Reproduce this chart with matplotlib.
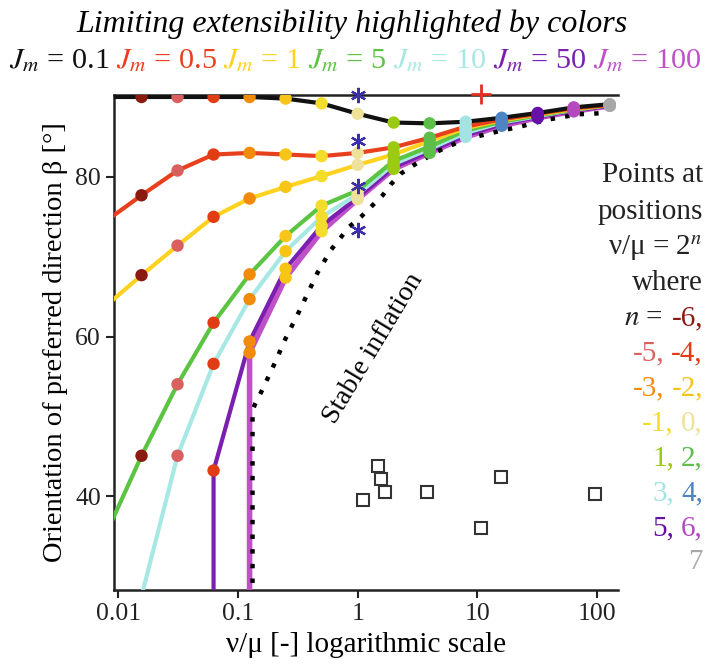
import numpy as np
import matplotlib
matplotlib.use("Agg")
import matplotlib.pyplot as plt
from matplotlib.ticker import NullLocator

plt.rcParams['font.family'] = ['Liberation Serif', 'DejaVu Serif']
plt.rcParams['mathtext.fontset'] = 'stix'

# points at nu/mu = 2^n
n_vals = np.arange(-6, 8)
nu_mu = 2.0 ** n_vals
point_colors = ['#8B1A10', '#D9605F', '#E23C15', '#F28A0A', '#F7C515', '#F3DC2A', '#EEE29A',
                '#9BCB10', '#5DBF4A', '#A3E4E2', '#4F84C4', '#6610A8', '#B448C0', '#A8A8A8']

nan = np.nan
beta_01 = [90.0, 90.0, 90.0, 90.0, 89.8, 89.2, 87.9, 86.8, 86.7, 86.9, 87.4, 88.0, 88.7, 89.1]
beta_05 = [77.7, 80.8, 82.8, 83.0, 82.8, 82.6, 83.0, 83.7, 84.9, 86.3, 87.2, 87.9, 88.6, 89.0]
beta_1 = [67.7, 71.4, 75.0, 77.3, 78.75, 80.1, 81.5, 82.8, 84.5, 86.1, 87.1, 87.8, 88.5, 89.0]
beta_5 = [45.1, 54.05, 61.75, 67.8, 72.6, 76.4, 78.3, 82.0, 83.8, 85.8, 86.9, 87.7, 88.4, 89.0]
beta_10 = [nan, 45.1, 56.6, 64.7, 70.7, 75.0, 77.8, 81.6, 83.5, 85.5, 86.8, 87.6, 88.4, 89.0]
beta_50 = [nan, nan, 43.25, 59.4, 68.5, 73.9, 77.4, 81.2, 83.2, 85.2, 86.6, 87.5, 88.3, 88.9]
beta_100 = [nan, nan, nan, 58.0, 67.4, 73.2, 77.2, 81.0, 83.0, 85.0, 86.4, 87.4, 88.2, 88.9]

# where each curve enters the plot (left edge / bottom)
start_x = [0.009, 0.009, 0.009, 0.009, 0.0147, 0.0625, 0.125]
start_y = [90.0, 75.1, 64.6, 37.2, 26.0, 20.0, 20.0]

jm_labels = ['0.1', '0.5', '1', '5', '10', '50', '100']
jm_colors = ['#111111', '#E8401C', '#FFD21F', '#5CC443', '#A8E8E4', '#7A1FB0', '#C050C8']

# stable inflation boundary
bound_x = [0.1323, 0.1323, 0.1402, 0.1596, 0.1997, 0.2503, 0.3236, 0.4618, 0.597, 0.8502, 1.066,
           1.293, 1.621, 1.902, 2.308, 2.893, 3.67, 4.69, 6.062, 7.841, 13.13, 23.44, 39.26, 70.08, 121.1]
bound_y = [20.0, 50.84, 51.68, 53.34, 56.46, 59.8, 63.13, 68.0, 70.84, 73.75, 75.0,
           76.25, 77.71, 79.09, 80.43, 81.4, 82.3, 83.21, 83.96, 84.68, 85.5, 86.34, 87.18, 87.84, 88.0]

star_x = [1, 1, 1, 1]
star_y = [90.3, 84.5, 78.8, 73.3]
plus_x = [10.8]
plus_y = [90.4]
square_x = [1.10, 1.49, 1.57, 1.70, 3.81, 15.7, 10.8, 96.6]
square_y = [39.6, 43.8, 42.2, 40.5, 40.5, 42.4, 36.05, 40.3]

fig = plt.figure(figsize=(7.05, 6.68), dpi=100)
ax = fig.add_axes([0.1617, 0.1168, 0.7149, 0.741])

curves = [beta_01, beta_05, beta_1, beta_5, beta_10, beta_50, beta_100]
zl = [4.6, 4.5, 4.4, 4.3, 4.2, 4.1, 4.0]
lws = [3, 3, 3, 3, 3, 3, 4]
for beta, x0, y0, col, z, lw in zip(curves, start_x, start_y, jm_colors, zl, lws):
    b = np.array(beta)
    m = ~np.isnan(b)
    ax.plot(np.r_[x0, nu_mu[m]], np.r_[y0, b[m]], color=col, lw=lw, zorder=z)
for beta in curves:
    b = np.array(beta)
    m = ~np.isnan(b)
    ax.scatter(nu_mu[m], b[m], c=np.array(point_colors)[m], s=80, edgecolors='none', zorder=6)

ax.plot(bound_x, bound_y, color='black', lw=3.2, ls=(0, (1, 2.3)), zorder=5)

ax.plot(star_x, star_y, ls='none', marker=(6, 2, 0), ms=11, mew=1.6, color='#3C2FA8',
        zorder=7, clip_on=False)
ax.plot(plus_x, plus_y, ls='none', marker='+', ms=14, mew=2, color='#E03020', zorder=7, clip_on=False)
ax.plot(square_x, square_y, ls='none', marker='s', ms=8, mew=1.5, mfc='none', mec='#333333', zorder=7)

ax.text(1.36, 58.5, 'Stable inflation', rotation=59, fontsize=20, ha='center', va='center',
        rotation_mode='anchor')

ax.set_xscale('log')
ax.set_xlim(0.0092, 150)
ax.set_ylim(28.3, 90.25)
ax.set_xticks([0.01, 0.1, 1, 10, 100])
ax.set_xticklabels(['0.01', '0.1', '1', '10', '100'])
ax.xaxis.set_minor_locator(NullLocator())
ax.set_yticks([40, 60, 80])
ax.tick_params(direction='out', length=6, width=1.5, labelsize=18.5, colors='#222222')
for s in ['left', 'bottom', 'top']:
    ax.spines[s].set_linewidth(1.8)
    ax.spines[s].set_color('#222222')
ax.spines['right'].set_visible(False)
ax.set_ylabel('Orientation of preferred direction β [°]', fontsize=20.5, labelpad=5)
ax.set_xlabel('ν/μ [-] logarithmic scale', fontsize=21, labelpad=5)

W, H = 705.0, 668.0
renderer = fig.canvas.get_renderer()


def colored_line(x, y, pieces, ha, size, gap_em=0.25, **kw):
    texts, widths = [], []
    for s, c in pieces:
        t = fig.text(0, 1 - y / H, s, color=c, fontsize=size, va='baseline', **kw)
        texts.append(t)
        widths.append(t.get_window_extent(renderer).width)
    gap = gap_em * size * 100 / 72
    total = sum(widths) + gap * (len(pieces) - 1)
    if ha == 'right':
        pos = x - total
    elif ha == 'center':
        pos = x - total / 2
    else:
        pos = x
    for t, w in zip(texts, widths):
        t.set_x(pos / W)
        pos += w + gap


fig.text(352 / W, 1 - 32 / H, 'Limiting extensibility highlighted by colors', fontsize=23,
         style='italic', ha='center', va='baseline')
colored_line(355, 68, [(r'$J_m$ = ' + l, c) for l, c in zip(jm_labels, jm_colors)], 'center', 21.8,
             gap_em=0.22)

right_lines = [
    [('Points at', '#222222')],
    [('positions', '#222222')],
    [(r'ν/μ = 2$^{n}$', '#222222')],
    [('where', '#222222')],
    [(r'$n$ = ', '#222222'), ('-6,', point_colors[0])],
    [('-5,', point_colors[1]), ('-4,', point_colors[2])],
    [('-3,', point_colors[3]), ('-2,', point_colors[4])],
    [('-1,', point_colors[5]), ('0,', point_colors[6])],
    [('1,', point_colors[7]), ('2,', point_colors[8])],
    [('3,', point_colors[9]), ('4,', point_colors[10])],
    [('5,', point_colors[11]), ('6,', point_colors[12])],
    [('7', point_colors[13])],
]
centers = [175, 211.7, 248, 283, 318, 353, 388, 423, 458, 493, 528, 562]
for pieces, yc in zip(right_lines, centers):
    colored_line(703, yc + 7, pieces, 'right', 21)

fig.savefig('out.png', dpi=100)
